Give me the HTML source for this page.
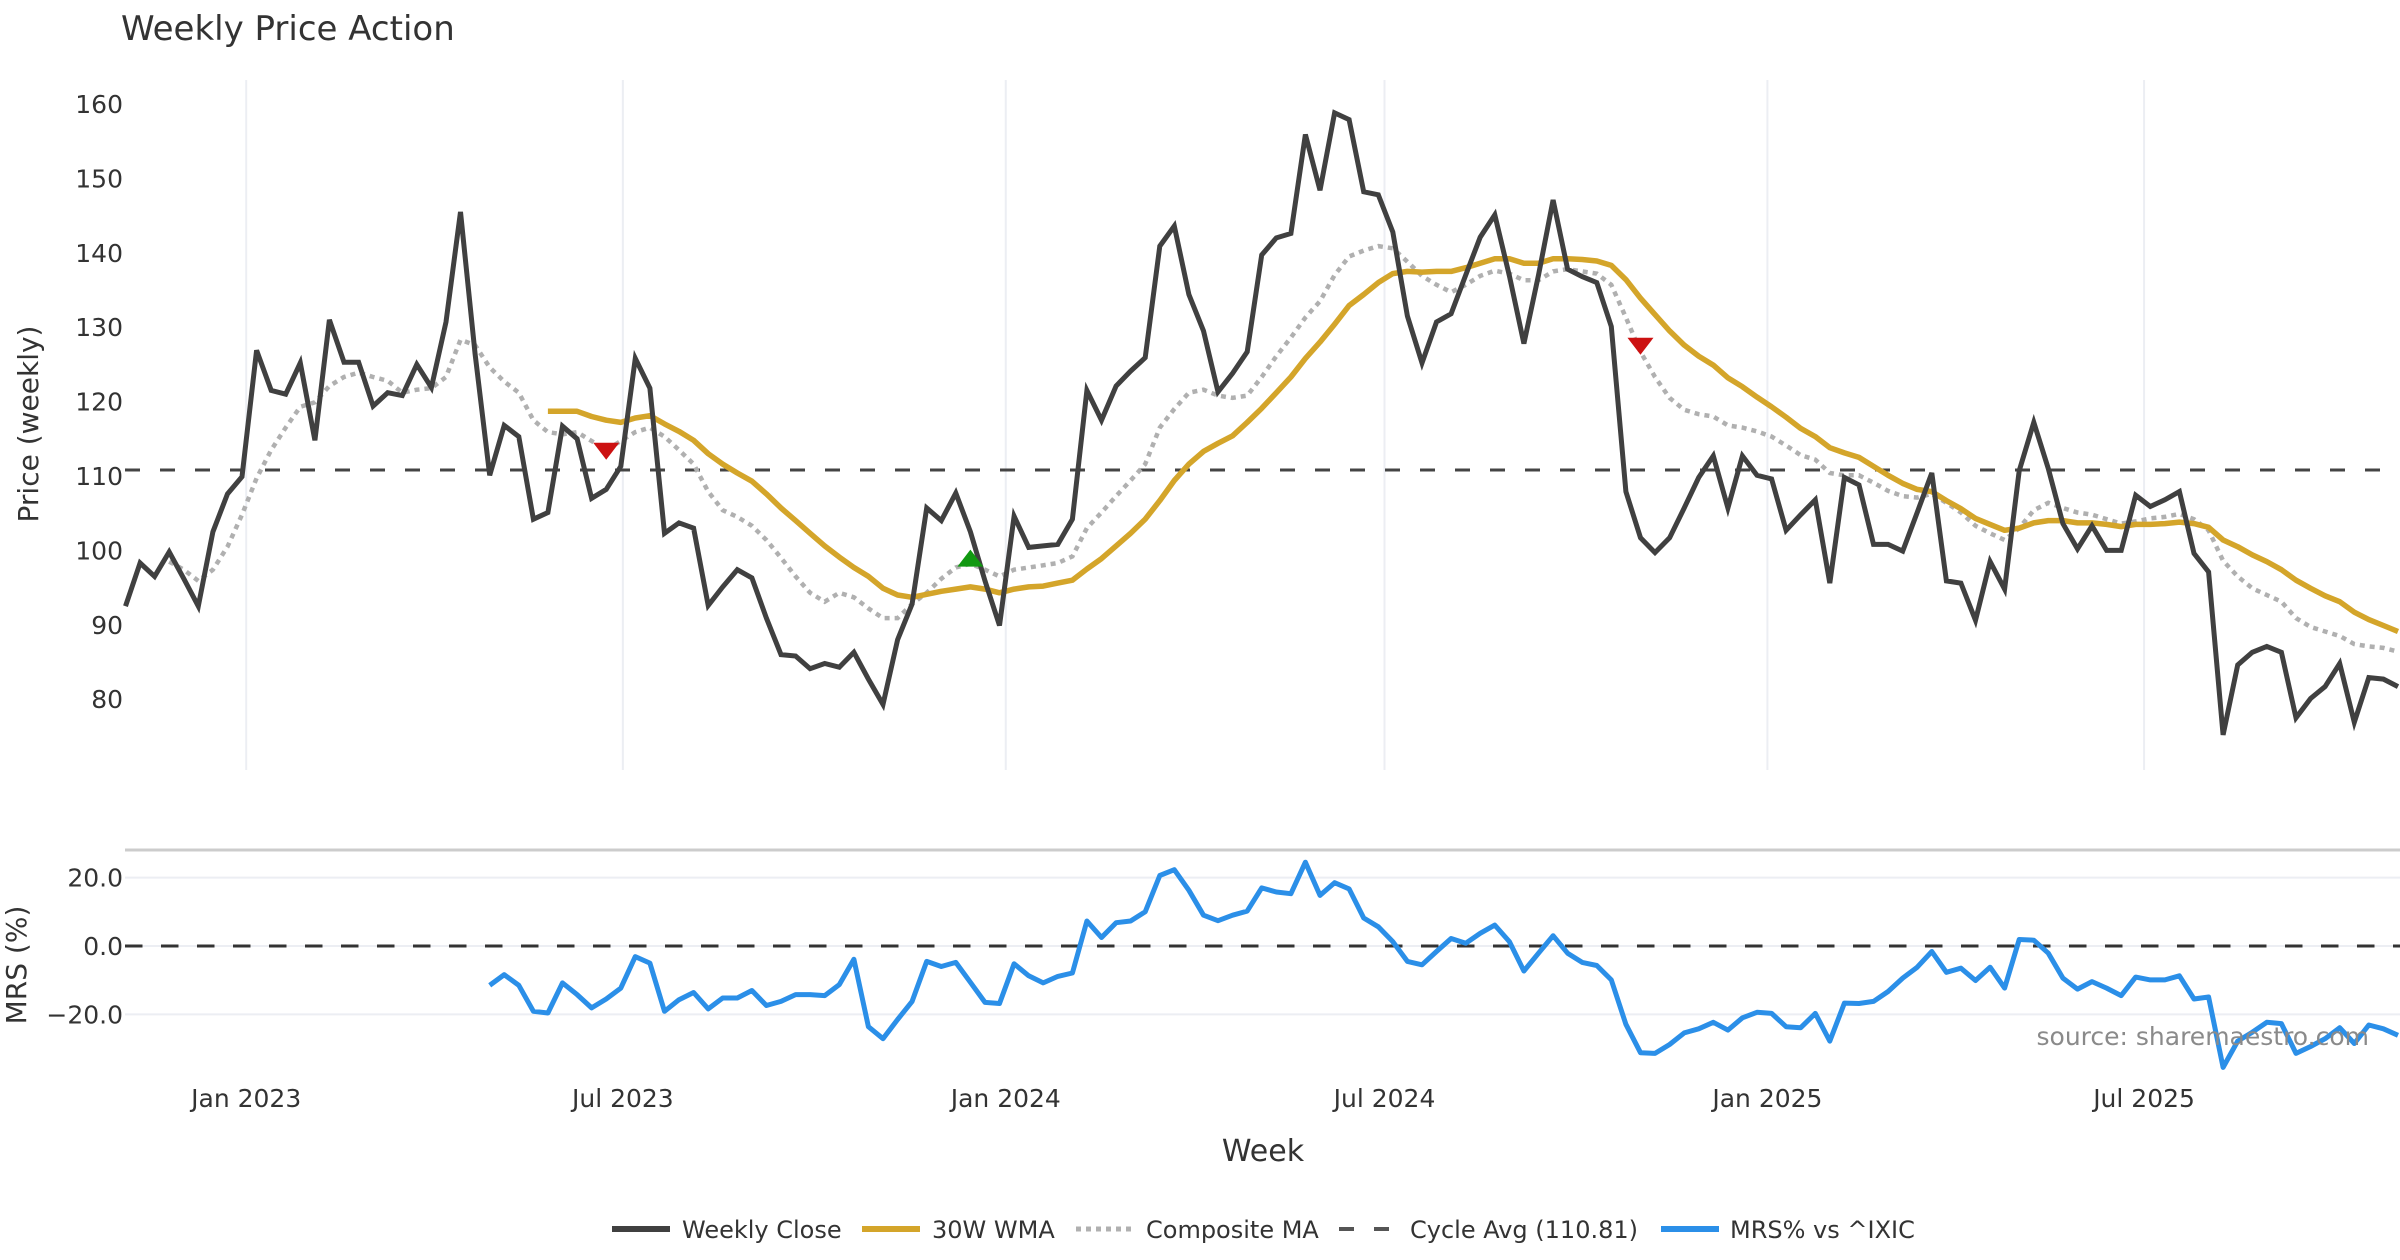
<!DOCTYPE html>
<html><head><meta charset="utf-8"><style>
html,body{margin:0;padding:0;background:#fff;}
svg{display:block;font-family:"DejaVu Sans","Liberation Sans",sans-serif;}
</style></head><body>
<svg id="chart" width="2400" height="1260" viewBox="0 0 2400 1260" xmlns="http://www.w3.org/2000/svg">
<rect width="2400" height="1260" fill="#fff"/>
<text x="121" y="40" font-size="34" fill="#333">Weekly Price Action</text>
<g id="grid"></g>
<g id="main"></g>
<g id="lower"></g>
<g id="axes"></g>
<text transform="translate(38,424) rotate(-90)" text-anchor="middle" font-size="28" fill="#333">Price (weekly)</text>
<text transform="translate(26,965) rotate(-90)" text-anchor="middle" font-size="28" fill="#333">MRS (%)</text>
<text x="1263" y="1161" text-anchor="middle" font-size="30" fill="#333">Week</text>
<text x="2369" y="1045" text-anchor="end" font-size="25" fill="#8a8a8a">source: sharemaestro.com</text>
<g id="legend" font-size="24" fill="#333">
  <g><line x1="612" y1="1229" x2="670" y2="1229" stroke="#404040" stroke-width="6"/><text x="682" y="1238">Weekly Close</text></g>
  <g><line x1="862" y1="1229" x2="920" y2="1229" stroke="#d4a52a" stroke-width="6"/><text x="932" y="1238">30W WMA</text></g>
  <g><line x1="1076" y1="1229" x2="1134" y2="1229" stroke="#b0b0b0" stroke-width="5" stroke-dasharray="5 5"/><text x="1146" y="1238">Composite MA</text></g>
  <g><line x1="1339" y1="1229" x2="1397" y2="1229" stroke="#555" stroke-width="4" stroke-dasharray="15 20"/><text x="1410" y="1238">Cycle Avg (110.81)</text></g>
  <g><line x1="1661" y1="1229" x2="1719" y2="1229" stroke="#2b8fe8" stroke-width="6"/><text x="1730" y="1238">MRS% vs ^IXIC</text></g>
</g>
</svg>
<script>
const closeVals=[92.5,98.3,96.5,99.8,96.2,92.5,102.5,107.6,109.9,126.9,121.5,121.0,125.2,114.8,131.0,125.3,125.3,119.4,121.2,120.8,125.0,121.9,130.7,145.5,126.4,110.1,116.8,115.3,104.2,105.1,116.7,115.0,107.0,108.2,111.3,125.8,121.8,102.3,103.7,103.0,
92.6,95.1,97.4,96.3,90.9,86.0,85.8,84.1,84.8,84.3,86.3,82.7,79.3,88.0,92.8,105.7,104.0,107.7,102.5,95.9,89.9,104.6,100.4,100.6,100.8,104.2,121.5,117.5,122.1,124.1,125.9,140.9,143.6,134.4,129.5,121.3,123.8,126.7,
139.7,142.0,142.6,155.9,148.4,158.8,157.9,148.2,147.8,142.8,131.5,125.2,130.7,131.8,137.0,142.1,145.1,136.9,127.8,137.0,147.1,137.8,136.8,136.0,130.1,107.9,101.7,99.7,101.7,105.7,109.8,112.7,105.7,112.7,110.1,109.6,102.7,104.8,
106.8,95.6,109.8,108.8,100.8,100.8,99.9,105.1,110.4,95.9,95.6,90.6,98.5,94.8,110.7,117.2,111.0,103.6,100.2,103.3,100.0,100.0,107.4,105.9,106.8,107.9,99.6,97.1,75.2,84.6,86.3,87.1,86.3,77.5,80.1,81.7,84.8,76.9,82.9,82.7,81.7];
const wmaVals=[null,null,null,null,null,null,null,null,null,null,null,null,null,null,null,null,null,null,null,null,null,null,null,null,null,null,null,null,null,
118.7,118.7,118.7,118.0,117.5,117.2,117.8,118.1,117.0,116.0,114.8,
113.0,111.6,110.4,109.3,107.6,105.7,104.0,102.3,100.6,99.1,97.7,96.5,94.9,94.0,93.7,94.1,94.5,94.8,95.1,94.8,94.3,94.8,95.1,95.2,95.6,96.0,97.5,98.9,100.6,102.3,104.2,106.7,109.4,111.6,113.3,114.4,115.4,117.2,
119.1,121.2,123.3,125.8,128.0,130.4,132.9,134.4,136.0,137.2,137.5,137.4,137.5,137.5,138.0,138.6,139.2,139.2,138.6,138.6,139.2,139.2,139.1,138.9,138.3,136.4,133.9,131.7,129.5,127.6,126.1,124.9,123.2,122.0,120.6,119.3,117.9,116.4,
115.3,113.8,113.1,112.5,111.3,110.1,109.0,108.2,107.9,106.7,105.6,104.3,103.5,102.7,103.0,103.7,104.0,104.0,103.7,103.7,103.5,103.2,103.5,103.5,103.6,103.8,103.6,103.1,101.4,100.5,99.4,98.5,97.4,96.0,94.9,93.9,93.1,91.7,90.7,89.9,89.1];
const compVals=[null,null,null,98.5,
97.4,95.9,97.4,100.5,104.8,109.7,113.5,116.5,119.3,119.9,122.1,123.3,123.9,123.3,122.8,121.2,121.6,121.8,123.3,128.3,127.6,124.6,122.7,121.2,117.5,115.9,115.6,115.9,114.7,113.5,114.7,115.9,116.5,115.3,113.5,111.6,
107.9,105.4,104.5,103.3,101.4,99.0,96.5,94.3,93.1,94.3,93.7,92.2,90.9,90.9,92.8,94.3,96.2,97.7,98.2,97.4,96.5,97.4,97.7,98.0,98.3,99.2,103.0,105.1,107.3,109.4,111.6,116.5,119.0,121.2,121.6,120.8,120.5,120.8,
123.3,126.1,128.6,131.3,133.5,137.0,139.5,140.3,140.9,140.6,138.8,136.9,135.7,134.7,135.7,136.9,137.6,137.2,136.3,136.3,137.5,137.8,137.5,137.2,135.7,131.3,126.7,123.3,120.5,118.9,118.3,118.0,116.8,116.5,116.0,115.3,114.1,112.8,
112.2,110.4,110.1,110.1,109.1,108.0,107.3,107.1,107.6,106.4,105.1,103.3,102.3,101.4,103.0,105.4,106.4,105.7,105.1,104.8,104.2,103.6,103.9,104.3,104.5,104.9,104.2,102.7,98.6,96.5,94.9,94.0,93.1,90.9,89.7,89.1,88.5,87.4,87.1,86.9,86.4];
const mrsVals=[null,null,null,null,null,null,null,null,null,null,null,null,null,null,null,null,null,null,null,null,null,null,null,null,null,
-11.5,-8.4,-11.5,-19.1,-19.6,-10.8,-14.2,-18.1,-15.5,-12.3,-3.1,-5.0,-19.1,-15.7,-13.6,-18.4,-15.2,-15.2,-13.0,-17.4,-16.2,-14.2,-14.2,-14.5,-11.3,-3.9,-23.6,-27.1,-21.5,-16.2,-4.5,-6.0,-4.8,-10.6,-16.5,-16.8,-5.2,-8.7,-10.8,-8.9,-7.9,7.3,2.5,6.8,7.3,10.0,20.6,22.3,16.3,9.0,7.4,9.0,10.2,17.0,15.8,15.3,24.5,14.8,18.5,16.7,8.2,5.6,1.3,-4.5,-5.5,-1.6,
2.2,0.8,3.7,6.1,1.3,-7.3,-2.1,3.0,-2.1,-4.8,-5.7,-9.9,-22.9,-31.2,-31.4,-28.8,-25.4,-24.2,-22.3,-24.6,-21.0,-19.4,-19.7,-23.6,-23.9,-19.7,-27.8,-16.7,-16.8,-16.2,-13.3,-9.4,-6.2,-1.6,-7.7,-6.5,-10.1,-6.2,-12.3,1.9,1.7,-2.1,-9.4,-12.6,-10.4,-12.3,-14.5,-9.1,-9.9,-9.9,-8.7,-15.5,-14.9,-35.5,-27.8,-25.2,-22.3,-22.7,-31.4,-29.4,-27.1,-23.9,-28.5,-23.1,-24.2,-26.1];
const cycleAvg=110.81;
const priceTicks=[80,90,100,110,120,130,140,150,160];
const mrsTicks=[-20,0,20];
const mrsTickLabels=["\u221220.0","0.0","20.0"];
const dateTicks=["2023-01-01","2023-07-01","2024-01-01","2024-07-01","2025-01-01","2025-07-01"];
const dateTickLabels=["Jan 2023","Jul 2023","Jan 2024","Jul 2024","Jan 2025","Jul 2025"];
const startDate="2022-11-04";
const signalIdx=[33,58,104];
const signalVals=[113.4,98.9,127.5];
const signalType=["sell","buy","sell"];

const NS="http://www.w3.org/2000/svg";
const X0=125.5, PXW=14.567;
function xIdx(i){return X0+i*PXW;}
function xDate(d){return X0+((new Date(d)-new Date(startDate))/86400000/7)*PXW;}
function yP(v){return 104+(160-v)*7.44;}
function yM(v){return 946-v*3.42;}
function mk(tag,attrs,parent){const e=document.createElementNS(NS,tag);for(const k in attrs)e.setAttribute(k,attrs[k]);parent.appendChild(e);return e;}
function pathFrom(vals,yf){let d="",pen=false;vals.forEach((v,i)=>{if(v==null){pen=false;return;}d+=(pen?"L":"M")+xIdx(i).toFixed(1)+","+yf(v).toFixed(1);pen=true;});return d;}

const grid=document.getElementById('grid'),main=document.getElementById('main'),lower=document.getElementById('lower'),axes=document.getElementById('axes');
dateTicks.forEach((d,k)=>{
  const x=xDate(d);
  const g=mk('line',{x1:x,y1:80,x2:x,y2:770,stroke:'#eceef3','stroke-width':2},grid);
  
  
  const t=mk('text',{x:x,y:1107,'text-anchor':'middle','font-size':25,fill:'#333'},axes);
  t.textContent=dateTickLabels[k];
  
  
});
priceTicks.forEach(v=>{
  const t=mk('text',{x:123,y:yP(v)+9,'text-anchor':'end','font-size':25,fill:'#333'},axes);
  t.textContent=String(v);
  
  
});
// lower panel
const sep=mk('line',{x1:125,y1:850,x2:2400,y2:850,stroke:'#cccccc','stroke-width':3},lower);


mrsTicks.forEach((v,k)=>{
  const gl=mk('line',{x1:125,y1:yM(v),x2:2400,y2:yM(v),stroke:'#eceef3','stroke-width':2},lower);
  
  
  const t=mk('text',{x:123,y:yM(v)+9,'text-anchor':'end','font-size':25,fill:'#333'},axes);
  t.textContent=mrsTickLabels[k];
  
  
});
const zl=mk('line',{x1:125,y1:yM(0),x2:2400,y2:yM(0),stroke:'#333','stroke-width':3,'stroke-dasharray':'17.5 18.5'},lower);


const mrs=mk('path',{d:pathFrom(mrsVals,yM),fill:'none',stroke:'#2b8fe8','stroke-width':5,'stroke-linejoin':'round'},lower);


// main panel
const cy=mk('line',{x1:125,y1:yP(cycleAvg),x2:2400,y2:yP(cycleAvg),stroke:'#444','stroke-width':3,'stroke-dasharray':'15 20'},main);


const comp=mk('path',{d:pathFrom(compVals,yP),fill:'none',stroke:'#b0b0b0','stroke-width':4.5,'stroke-dasharray':'5 5'},main);


const wma=mk('path',{d:pathFrom(wmaVals,yP),fill:'none',stroke:'#d4a52a','stroke-width':5.5,'stroke-linejoin':'round'},main);


const cl=mk('path',{d:pathFrom(closeVals,yP),fill:'none',stroke:'#404040','stroke-width':5,'stroke-linejoin':'miter'},main);


signalIdx.forEach((i,k)=>{
  const x=xIdx(i),y=yP(signalVals[k]);
  const pts=signalType[k]==='sell'?`${x-13},${y-8} ${x+13},${y-8} ${x},${y+9}`:`${x-13},${y+8} ${x+13},${y+8} ${x},${y-9}`;
  const m=mk('polygon',{points:pts,fill:signalType[k]==='sell'?'#cc1111':'#119911'},main);
  
  
});
</script>
</body></html>
